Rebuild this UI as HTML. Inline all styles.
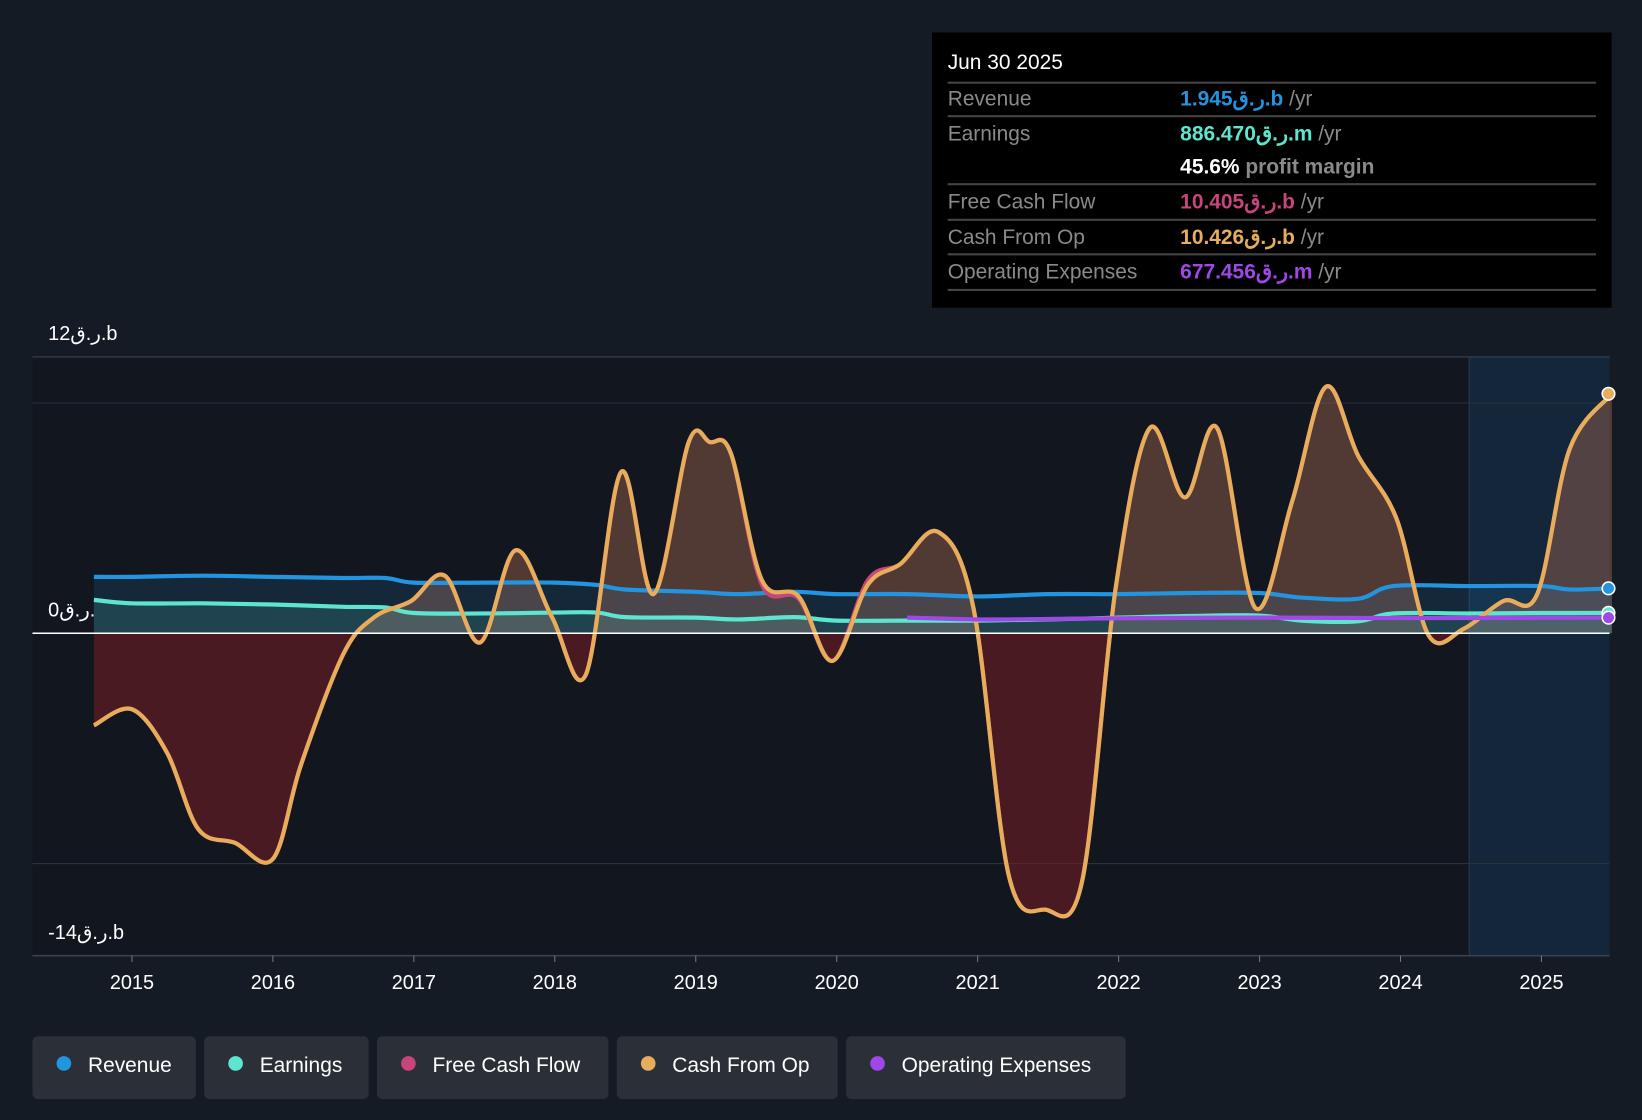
<!DOCTYPE html>
<html><head><meta charset="utf-8">
<style>
html,body{margin:0;padding:0;background:#151b24;}
svg{display:block;font-family:"Liberation Sans","Noto Sans CJK SC",sans-serif;}
</style></head>
<body>
<svg id="chart" width="1642" height="1120" viewBox="0 0 1568 1070" preserveAspectRatio="none">
<rect x="0" y="0" width="1568" height="1070" fill="#151b24"/>
<rect x="31" y="341" width="1372" height="572" fill="#10151c" opacity="0.6"/>
<rect x="1403" y="341" width="134" height="572" fill="#13263a"/>
<line x1="1403" y1="341" x2="1403" y2="913" stroke="#2a3a4a" stroke-width="1"/>
<g id="grid"></g>
<g id="series"></g>
<g id="xaxis"></g>
<g>
<rect x="890" y="31" width="649" height="263" fill="#000"/>
<text x="905" y="66" fill="#fff" font-size="20">Jun 30 2025</text>
<line x1="905" y1="79" x2="1524" y2="79" stroke="#444" stroke-width="2"/>
<text x="905" y="101" fill="#8a8a8a" font-size="20">Revenue</text>
<text x="1127" y="101" font-size="20" font-weight="bold" fill="#2394df">1.945ر.ق.b <tspan fill="#8a8a8a" font-weight="normal">/yr</tspan></text>
<line x1="905" y1="111" x2="1524" y2="111" stroke="#444" stroke-width="2"/>
<text x="905" y="134" fill="#8a8a8a" font-size="20">Earnings</text>
<text x="1127" y="134" font-size="20" font-weight="bold" fill="#5ee5cf">886.470ر.ق.m <tspan fill="#8a8a8a" font-weight="normal">/yr</tspan></text>
<text x="1127" y="166" font-size="20" font-weight="bold" fill="#fff">45.6% <tspan fill="#8a8a8a">profit margin</tspan></text>
<line x1="905" y1="176" x2="1524" y2="176" stroke="#444" stroke-width="2"/>
<text x="905" y="199" fill="#8a8a8a" font-size="20">Free Cash Flow</text>
<text x="1127" y="199" font-size="20" font-weight="bold" fill="#c8457b">10.405ر.ق.b <tspan fill="#8a8a8a" font-weight="normal">/yr</tspan></text>
<line x1="905" y1="210" x2="1524" y2="210" stroke="#444" stroke-width="2"/>
<text x="905" y="233" fill="#8a8a8a" font-size="20">Cash From Op</text>
<text x="1127" y="233" font-size="20" font-weight="bold" fill="#e8ad5a">10.426ر.ق.b <tspan fill="#8a8a8a" font-weight="normal">/yr</tspan></text>
<line x1="905" y1="243" x2="1524" y2="243" stroke="#444" stroke-width="2"/>
<text x="905" y="266" fill="#8a8a8a" font-size="20">Operating Expenses</text>
<text x="1127" y="266" font-size="20" font-weight="bold" fill="#a047e8">677.456ر.ق.m <tspan fill="#8a8a8a" font-weight="normal">/yr</tspan></text>
<line x1="905" y1="277" x2="1524" y2="277" stroke="#444" stroke-width="2"/>
</g>
<g id="legend"></g>
</svg>
<script>
const yTickVals=[12,0,-14];
const yTickLabels=["12ر.ق.b","0ر.ق.","-14ر.ق.b"];
const xTicks=[2015,2016,2017,2018,2019,2020,2021,2022,2023,2024,2025];
const cfoYears=[2014.73,2015.0,2015.25,2015.47,2015.73,2016.0,2016.2,2016.5,2016.72,2016.98,2017.22,2017.47,2017.72,2017.98,2018.22,2018.47,2018.7,2018.95,2019.1,2019.25,2019.47,2019.73,2019.97,2020.22,2020.45,2020.72,2020.97,2021.22,2021.48,2021.74,2021.98,2022.22,2022.47,2022.7,2022.97,2023.23,2023.47,2023.7,2023.97,2024.2,2024.45,2024.73,2024.97,2025.2,2025.5];
const cfoValues=[-4.0,-3.3,-5.2,-8.5,-9.1,-9.8,-5.7,-0.9,0.7,1.4,2.5,-0.4,3.6,0.7,-1.8,7.0,1.7,8.3,8.3,7.8,2.3,1.6,-1.2,2.1,3.0,4.4,1.1,-10.5,-12.0,-10.8,2.0,8.9,5.9,8.9,1.1,5.7,10.7,7.7,5.0,-0.1,0.2,1.4,1.7,8.0,10.4];
const fcfValues=[-4.0,-3.3,-5.2,-8.5,-9.1,-9.8,-5.7,-0.9,0.7,1.4,2.5,-0.4,3.6,0.7,-1.8,7.0,1.7,8.3,8.3,7.8,2.1,1.5,-1.2,2.3,3.0,4.4,1.1,-10.5,-12.0,-10.8,2.0,8.9,5.9,8.9,1.1,5.7,10.7,7.7,5.0,-0.1,0.2,1.4,1.7,8.0,10.4];
const revYears=[2014.73,2015.0,2015.5,2016.0,2016.5,2016.8,2017.0,2017.5,2018.0,2018.3,2018.5,2019.0,2019.3,2019.7,2020.0,2020.5,2021.0,2021.5,2022.0,2022.5,2023.0,2023.3,2023.7,2023.95,2024.5,2025.0,2025.2,2025.5];
const revValues=[2.45,2.45,2.5,2.45,2.4,2.4,2.2,2.2,2.2,2.1,1.9,1.8,1.7,1.8,1.7,1.7,1.6,1.7,1.7,1.75,1.75,1.55,1.5,2.05,2.05,2.05,1.9,1.95];
const earnValues=[1.45,1.3,1.3,1.25,1.15,1.12,0.88,0.86,0.9,0.9,0.7,0.68,0.6,0.7,0.55,0.55,0.55,0.6,0.68,0.75,0.77,0.55,0.52,0.86,0.86,0.88,0.88,0.886];
const opexYears=[2020.5,2021.0,2021.5,2022.0,2023.0,2024.0,2025.0,2025.5];
const opexValues=[0.68,0.6,0.62,0.65,0.68,0.66,0.67,0.677];
const legendLabels=["Revenue","Earnings","Free Cash Flow","Cash From Op","Operating Expenses"];
const legendColors=["#2394df","#5ee5cf","#c8457b","#e8ad5a","#a047e8"];

const NS="http://www.w3.org/2000/svg";
const X=y=>126+(y-2015)*134.6;
const Y=v=>605-v*22;
function mk(tag,attrs,parent){const e=document.createElementNS(NS,tag);for(const k in attrs)e.setAttribute(k,attrs[k]);parent.appendChild(e);return e;}
function pathD(xs,vs){const p=xs.map((x,i)=>[X(x),Y(vs[i])]);let d="M"+p[0][0]+","+p[0][1];
for(let i=0;i<p.length-1;i++){const p0=p[i-1]||p[i],p1=p[i],p2=p[i+1],p3=p[i+2]||p2;
d+=" C"+(p1[0]+(p2[0]-p0[0])/6)+","+(p1[1]+(p2[1]-p0[1])/6)+" "+(p2[0]-(p3[0]-p1[0])/6)+","+(p2[1]-(p3[1]-p1[1])/6)+" "+p2[0]+","+p2[1];}return d;}
const grid=document.getElementById('grid');
[12,10,-10,-14].forEach(v=>{const l=mk('line',{x1:31,x2:1537,y1:Y(v),y2:Y(v),stroke:v==12||v==-14?'#3a424d':'#2a323c','stroke-width':1},grid);
});
yTickVals.forEach((v,i)=>{const t=mk('text',{x:46,y:Y(v),fill:'#fff','font-size':19},grid);
if(v==12)t.setAttribute('y',325);if(v==0)t.setAttribute('y',589);if(v==-14)t.setAttribute('y',897);
t.textContent=yTickLabels[i];});
const s=document.getElementById('series');
const defs=mk('defs',{},s);
const cp=mk('clipPath',{id:'above'},defs);mk('rect',{x:0,y:0,width:1600,height:605},cp);
const cn=mk('clipPath',{id:'below'},defs);mk('rect',{x:0,y:605,width:1600,height:400},cn);
const cfoD=pathD(cfoYears,cfoValues);
const areaD=cfoD+" L"+X(cfoYears[cfoYears.length-1])+",605 L"+X(cfoYears[0])+",605 Z";
const a1=mk('path',{d:areaD,fill:'rgba(170,105,80,0.42)','clip-path':'url(#above)'},s);

const a2=mk('path',{d:areaD,fill:'rgba(120,30,38,0.55)','clip-path':'url(#below)'},s);

const revD=pathD(revYears,revValues);
const ra=mk('path',{d:revD+" L"+X(2025.5)+",605 L"+X(2014.73)+",605 Z",fill:'rgba(35,148,223,0.14)'},s);

const earnD=pathD(revYears,earnValues);
const ea=mk('path',{d:earnD+" L"+X(2025.5)+",605 L"+X(2014.73)+",605 Z",fill:'rgba(94,229,207,0.15)'},s);

const rl=mk('path',{d:revD,fill:'none',stroke:'#2394df','stroke-width':4},s);

const el=mk('path',{d:earnD,fill:'none',stroke:'#5ee5cf','stroke-width':4},s);

const fl=mk('path',{d:pathD(cfoYears,fcfValues),fill:'none',stroke:'#c8457b','stroke-width':4},s);

const cl=mk('path',{d:cfoD,fill:'none',stroke:'#e8ad5a','stroke-width':4},s);

const ol=mk('path',{d:pathD(opexYears,opexValues),fill:'none',stroke:'#a047e8','stroke-width':4},s);

const z=mk('line',{x1:31,x2:1537,y1:605,y2:605,stroke:'#fff','stroke-width':1.5},s);

[[revValues[revValues.length-1],'#2394df'],[cfoValues[cfoValues.length-1],'#e8ad5a'],[earnValues[earnValues.length-1],'#5ee5cf'],[opexValues[opexValues.length-1],'#a047e8']].forEach(([v,c])=>{
const d=mk('circle',{cx:1536,cy:Y(v),r:6,fill:c,stroke:'#fff','stroke-width':1.5},s);
});
const xa=document.getElementById('xaxis');
mk('line',{x1:31,x2:1537,y1:913,y2:913,stroke:'#3a424d','stroke-width':1.5},xa);
xTicks.forEach(yr=>{mk('line',{x1:X(yr),x2:X(yr),y1:913,y2:919,stroke:'#777'},xa);
const t=mk('text',{x:X(yr),y:945,fill:'#fff','font-size':19,'text-anchor':'middle'},xa);t.textContent=yr;
});
const lg=document.getElementById('legend');
const widths=[156,157,221,211,267];let lx=31;
legendLabels.forEach((lab,i)=>{const g=mk('g',{},lg);

mk('rect',{x:lx,y:990,width:widths[i],height:60,rx:5,fill:'#2a2f38'},g);
mk('circle',{cx:lx+30,cy:1016,r:7,fill:legendColors[i]},g);
const t=mk('text',{x:lx+53,y:1024,fill:'#fff','font-size':20},g);t.textContent=lab;
lx+=widths[i]+8;});
</script>
</body></html>
